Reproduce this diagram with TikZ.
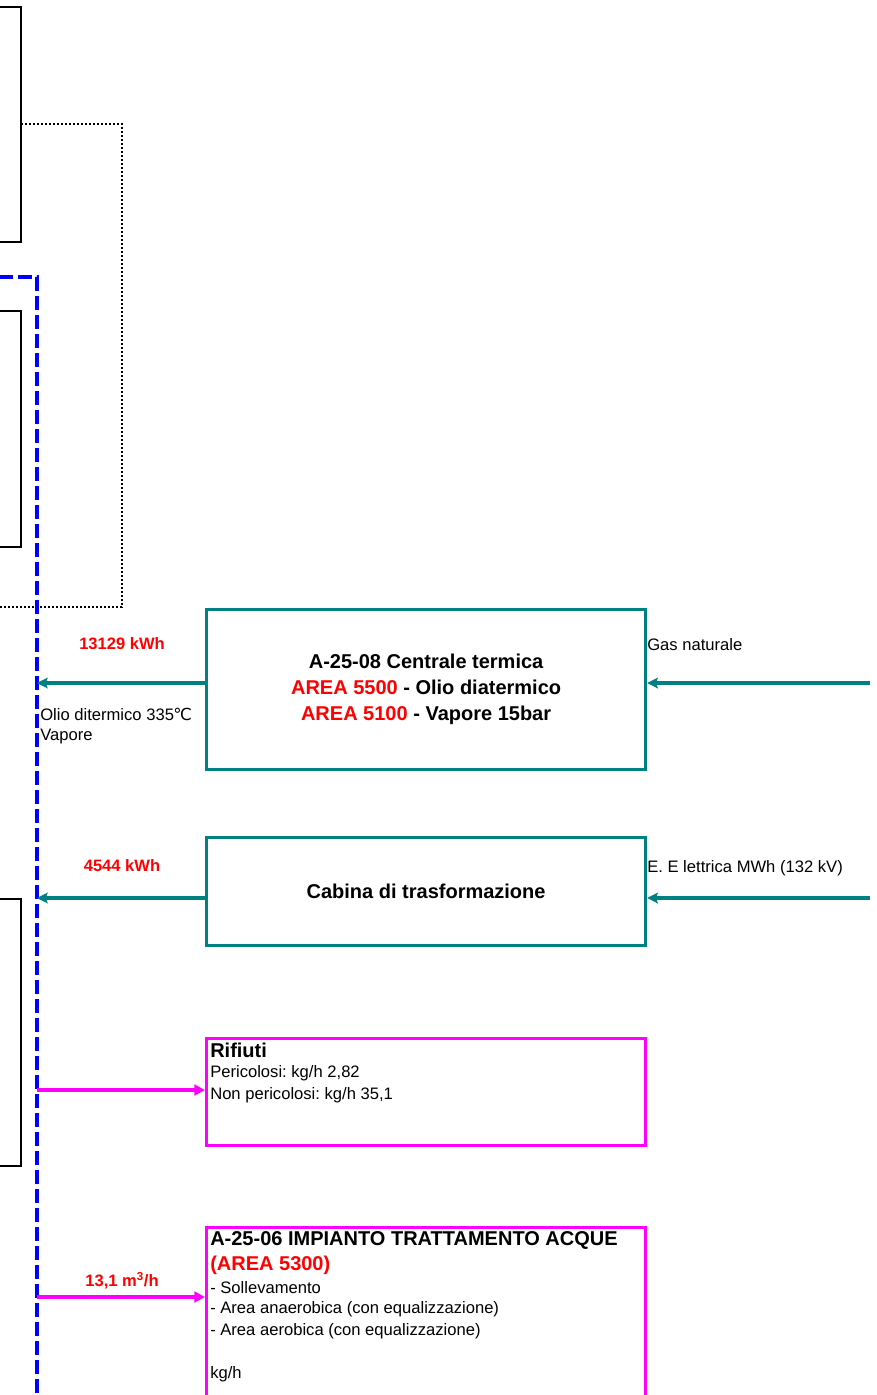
\documentclass[tikz,border=0pt]{standalone}
\usepackage{fontspec}
\setmainfont{Liberation Sans}
\newfontfamily\symfont{DejaVu Sans}
\usetikzlibrary{arrows.meta}
\frenchspacing

\definecolor{flowteal}{RGB}{0,128,128}
\definecolor{flowpink}{RGB}{255,0,255}
\definecolor{busblue}{RGB}{0,0,255}
\definecolor{lblred}{RGB}{255,0,0}

\tikzset{
  tealbox/.style={draw=flowteal, line width=2.4pt, minimum width=329.25pt, anchor=north west, inner sep=0pt},
  pinkbox/.style={draw=flowpink, line width=2.4pt, minimum width=329.25pt, anchor=north west, inner sep=0pt},
  boxtxt/.style={font=\fontsize{15}{19.5}\selectfont\bfseries, align=center},
  flowlbl/.style={font=\fontsize{12.4}{15}\selectfont\bfseries, text=lblred},
  sidetxt/.style={font=\fontsize{12.45}{15}\selectfont, anchor=west, inner sep=0pt, align=left},
  headtxt/.style={font=\fontsize{15}{18}\selectfont\bfseries, anchor=west, inner sep=0pt},
  tealflow/.style={flowteal, line width=3pt, -{Stealth[length=8pt,width=8pt,inset=1.5pt]}},
  pinkflow/.style={flowpink, line width=3pt, -{Triangle[length=8pt,width=8pt]}},
  leftbox/.style={draw=black, line width=1.5pt},
  dotline/.style={draw=black, line width=2.2pt, dash pattern=on 1.8pt off 1.2pt},
  busline/.style={draw=busblue, line width=3pt, dash pattern=on 10.5pt off 3.75pt}
}

\begin{document}
\begin{tikzpicture}[x=0.75pt, y=-0.75pt, line join=miter]

% -----------------------
% Parameters
% -----------------------
\def\busx{37}    % x of the dashed collector
\def\inx{870}    % x of the incoming feeds
\def\lblx{122}   % x of the flow labels

\useasboundingbox (0,0) rectangle (877,1395);

% -----------------------
% Left units (cut off)
% -----------------------
\draw[leftbox] (-20,7) rectangle (21,242);
\draw[leftbox] (-20,311) rectangle (21,547);
\draw[leftbox] (-20,899) rectangle (21,1166);

% dotted enclosure
\draw[dotline] (21,124) -| (122,607) -- (-20,607);

% dashed collector
\draw[busline] (-20,277) -| (\busx,1410);

% -----------------------
% Utility boxes
% -----------------------
\node[tealbox, minimum height=120pt] (ct) at (205,608) {};
\node[boxtxt] (ctT) at (ct.center) {A-25-08 Centrale termica\\
  {\color{lblred}AREA 5500} - Olio diatermico\\
  {\color{lblred}AREA 5100} - Vapore 15bar};

\node[tealbox, minimum height=81pt] (cab) at (205,836) {};
\node[boxtxt] (cabT) at (cab.center) {Cabina di trasformazione};

\node[pinkbox, minimum height=80.25pt] (rif) at (205,1037) {};
\node[headtxt] (rifT) at (210,1050) {Rifiuti};
\node[sidetxt] (rifP) at (210,1073) {Pericolosi: kg/h 2,82};
\node[sidetxt] (rifN) at (210,1095) {Non pericolosi: kg/h 35,1};

\node[pinkbox, minimum height=150pt] (wat) at (205,1226) {};
\node[headtxt] (watT) at (210,1240) {A-25-06 IMPIANTO TRATTAMENTO ACQUE};
\node[headtxt, text=lblred] (watA) at (210,1265) {(AREA 5300)};
\node[sidetxt] (watS) at (210,1288) {- Sollevamento};
\node[sidetxt] (watN) at (210,1309) {- Area anaerobica (con equalizzazione)};
\node[sidetxt] (watR) at (210,1331) {- Area aerobica (con equalizzazione)};
\node[sidetxt] (watK) at (210,1374) {kg/h};

% -----------------------
% Connection points
% -----------------------
\coordinate (busA) at (\busx,683);
\coordinate (busB) at (\busx,898);
\coordinate (busC) at (\busx,1090);
\coordinate (busD) at (\busx,1297);
\coordinate (gasIn) at (\inx,683);
\coordinate (eleIn) at (\inx,898);

% -----------------------
% Flows
% -----------------------
\draw[tealflow] (ct.west |- busA) -- (busA);
\draw[tealflow] (gasIn) -- (gasIn -| ct.east);
\draw[tealflow] (cab.west |- busB) -- (busB);
\draw[tealflow] (eleIn) -- (eleIn -| cab.east);
\draw[pinkflow] (busC) -- (busC -| rif.west);
\draw[pinkflow] (busD) -- (busD -| wat.west);

% -----------------------
% Flow labels
% -----------------------
\node[flowlbl] (qCt) at (\lblx,644) {13129 kWh};
\node[sidetxt] (oilT) at (40,726) {Olio ditermico 335{\symfont\kern-0.5pt ℃}\\Vapore};
\node[sidetxt] (gasT) at (647,645) {Gas naturale};
\node[flowlbl] (qCab) at (\lblx,866) {4544 kWh};
\node[sidetxt] (eleT) at (647,868) {E. E lettrica MWh (132 kV)};
\node[flowlbl] (qWat) at (\lblx,1281) {13,1 m\textsuperscript{3}/h};

\end{tikzpicture}
\end{document}
